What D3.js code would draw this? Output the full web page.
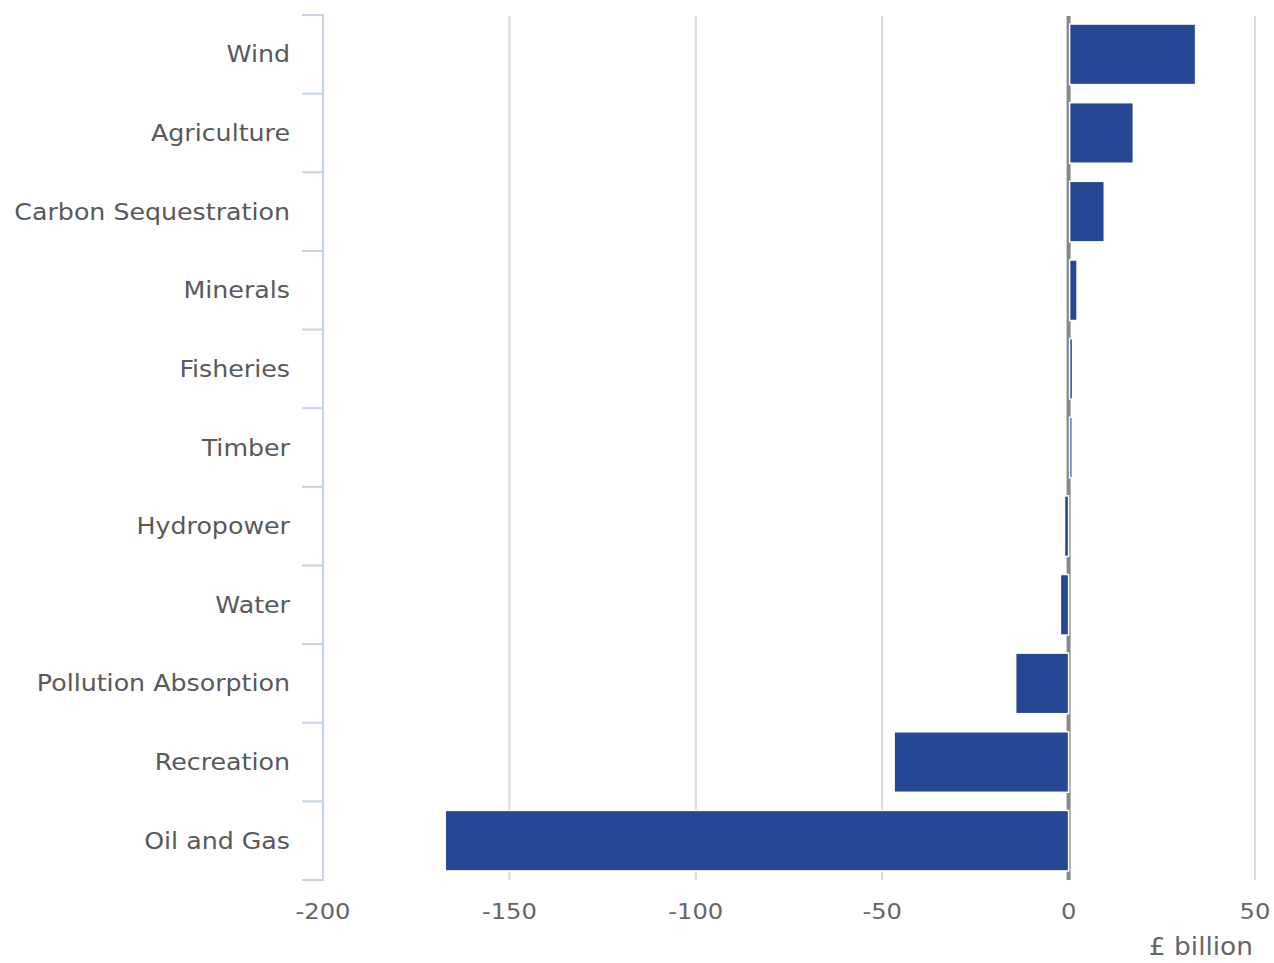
<!DOCTYPE html>
<html>
<head>
<meta charset="utf-8">
<script src="https://cdnjs.cloudflare.com/ajax/libs/d3/7.8.5/d3.min.js"></script>
<style>
  body { margin: 0; background: #fff; }
  text { font-family: "DejaVu Sans", sans-serif; }
</style>
</head>
<body>
<div id="chart"></div>
<script>
// values, £ billion
var categories = ["Wind", "Agriculture", "Carbon Sequestration", "Minerals", "Fisheries",
  "Timber", "Hydropower", "Water", "Pollution Absorption", "Recreation", "Oil and Gas"];
var values = [33.8, 17.1, 9.3, 2.0, 0.8, 0.7, -1.1, -2.2, -14.2, -46.8, -167.2];
var xTicks = [-200, -150, -100, -50, 0, 50];
var gridTicks = [-150, -100, -50, 50];

var svgWidth = 1274;
var svgHeight = 963;
var stretch = 1.1; // text in the original is a bit wide

var svg = d3.select("#chart").append("svg")
  .attr("width", svgWidth)
  .attr("height", svgHeight);

var x = d3.scaleLinear()
  .domain([-200, 50])
  .range([323, 1255]);

var y = d3.scaleBand()
  .domain(categories)
  .range([15, 880])
  .paddingInner(0.23)
  .paddingOuter(0.115);

var dataset = categories.map(function(c, i) { return { name: c, value: values[i] }; });

// vertical grid
svg.append("g").selectAll("line")
  .data(gridTicks)
  .enter().append("line")
  .attr("x1", d => x(d)).attr("x2", d => x(d))
  .attr("y1", 16).attr("y2", 880)
  .attr("stroke", "#d9d9d9")
  .attr("stroke-width", 2);

// zero line
svg.append("line")
  .attr("x1", x(0)).attr("x2", x(0))
  .attr("y1", 16).attr("y2", 880)
  .attr("stroke", "#888")
  .attr("stroke-width", 4);

// bars
svg.append("g").selectAll("rect")
  .data(dataset)
  .enter().append("rect")
  .attr("x", d => x(Math.min(0, d.value)) + (d.value >= 0 ? 1 : 0))
  .attr("y", d => y(d.name))
  .attr("width", d => Math.max(1.5, Math.abs(x(d.value) - x(0))))
  .attr("height", y.bandwidth())
  .attr("fill", "#264794")
  .attr("stroke", "#fff")
  .attr("stroke-width", 1.5);

// y axis: line plus ticks at band boundaries
var step = y.step();
var bounds = d3.range(categories.length + 1).map(i => y.range()[0] + i * step);
svg.append("line")
  .attr("x1", 323).attr("x2", 323)
  .attr("y1", 15).attr("y2", 880)
  .attr("stroke", "#c5d3e5")
  .attr("stroke-width", 2);
svg.append("g").selectAll("line")
  .data(bounds)
  .enter().append("line")
  .attr("x1", 302).attr("x2", 324)
  .attr("y1", d => d).attr("y2", d => d)
  .attr("stroke", "#c5d3e5")
  .attr("stroke-width", 2);

svg.append("g").selectAll("text")
  .data(categories)
  .enter().append("text")
  .attr("transform", d => `translate(290, ${y(d) + y.bandwidth() / 2}) scale(${stretch}, 1)`)
  .attr("dy", "0.35em")
  .attr("text-anchor", "end")
  .attr("font-size", 23)
  .attr("fill", "#595959")
  .text(d => d);

// x tick labels
svg.append("g").selectAll("text")
  .data(xTicks)
  .enter().append("text")
  .attr("transform", d => `translate(${x(d)}, 919) scale(${stretch}, 1)`)
  .attr("text-anchor", "middle")
  .attr("font-size", 22)
  .attr("fill", "#666")
  .text(d => d);

svg.append("text")
  .attr("transform", `translate(1253, 955) scale(${stretch}, 1)`)
  .attr("text-anchor", "end")
  .attr("font-size", 24)
  .attr("fill", "#666")
  .text("£ billion");
</script>
</body>
</html>
